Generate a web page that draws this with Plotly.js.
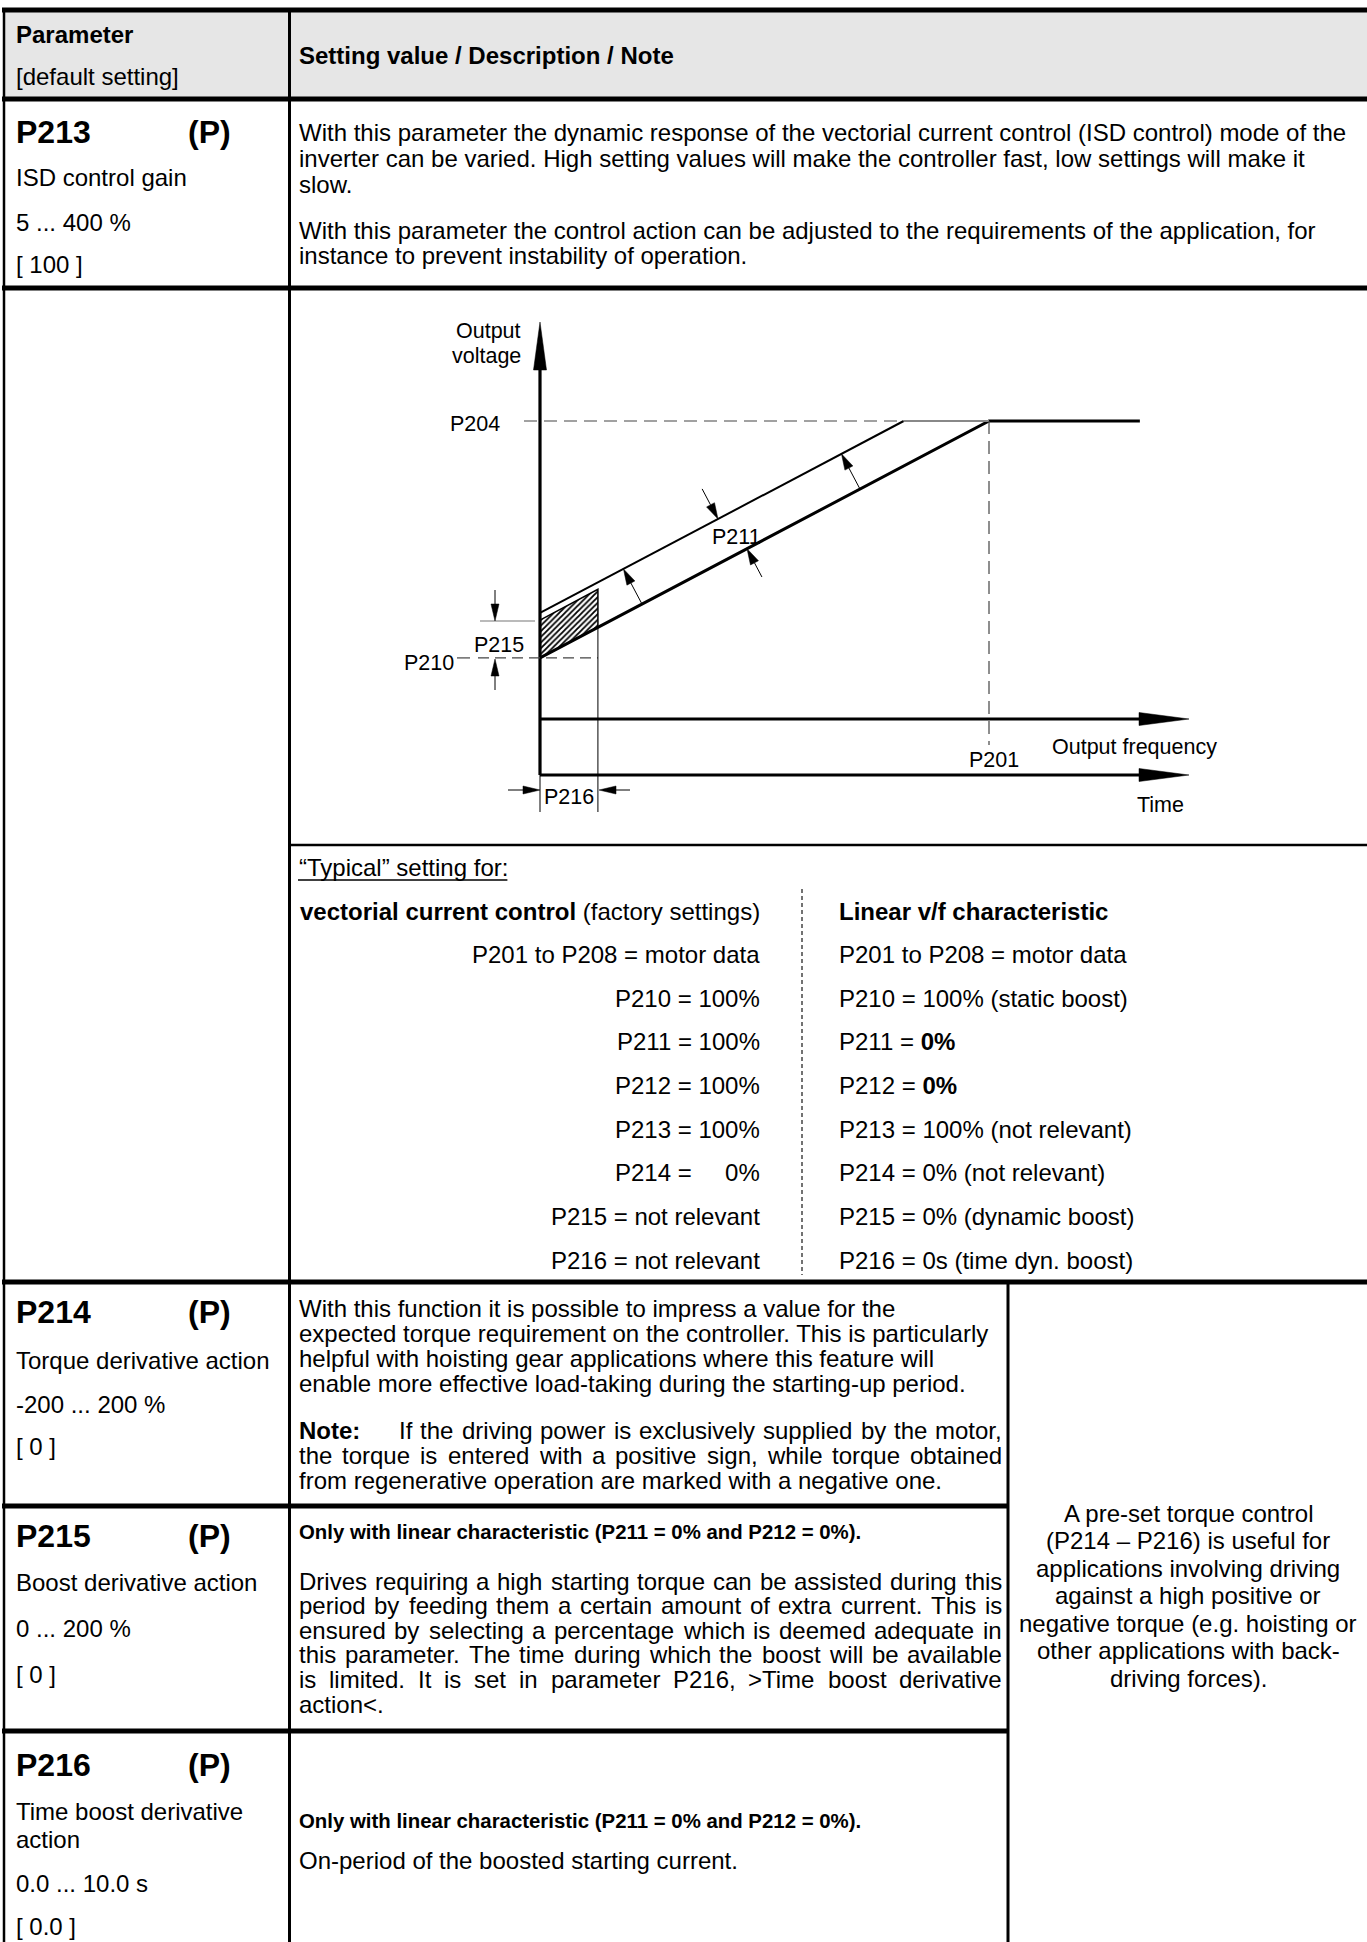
<!DOCTYPE html>
<html><head><meta charset="utf-8">
<script src="https://cdn.plot.ly/plotly-3.0.1.min.js"></script>
<style>html,body{margin:0;padding:0;background:#fff;}#chart{width:1367px;height:1942px;}</style>
</head><body><div id="chart"></div>
<script>
// ---------------- DATA ----------------
// Diagram values (frequency unit: P201 = 1, voltage unit: P204 = 1)
const charFreq  = [0, 1.0, 1.336];     // v/f characteristic (bold)
const charVolt  = [0.205, 1.0, 1.0];
const boostFreq = [0, 0.81];           // characteristic raised by P211
const boostVolt = [0.356, 1.0];
const flatFreq  = [0.81, 1.0];
const flatVolt  = [1.0, 1.0];
const hatchFreq = [0, 0.129, 0.129, 0, 0];  // P215 dynamic boost area
const hatchVolt = [0.332, 0.435, 0.308, 0.205, 0.332];
const levelP204 = 1.0, levelP210 = 0.205, freqP201 = 1.0, timeP216 = 0.129;

const headerLeft  = ['Parameter', '[default setting]'];
const headerRight = 'Setting value / Description / Note';

const p213Lines = ['ISD control gain', '5 ... 400 %', '[ 100 ]'];
const p213Text = [
 'With this parameter the dynamic response of the vectorial current control (ISD control) mode of the',
 'inverter can be varied. High setting values will make the controller fast, low settings will make it',
 'slow.',
 'With this parameter the control action can be adjusted to the requirements of the application, for',
 'instance to prevent instability of operation.'];

const typicalTitle = '“Typical” setting for:';
const typLeft = ['<b>vectorial current control</b> (factory settings)', 'P201 to P208 = motor data',
 'P210 = 100%', 'P211 = 100%', 'P212 = 100%', 'P213 = 100%', 'P214 =\u00a0\u00a0\u00a0\u00a0\u00a00%',
 'P215 = not relevant', 'P216 = not relevant'];
const typRight = ['<b>Linear v/f characteristic</b>', 'P201 to P208 = motor data',
 'P210 = 100% (static boost)', 'P211 = <b>0%</b>', 'P212 = <b>0%</b>', 'P213 = 100% (not relevant)',
 'P214 = 0% (not relevant)', 'P215 = 0% (dynamic boost)', 'P216 = 0s (time dyn. boost)'];

const p214Lines = ['Torque derivative action', '-200 ... 200 %', '[ 0 ]'];
const p214Para1 = ['With this function it is possible to impress a value for the',
 'expected torque requirement on the controller. This is particularly',
 'helpful with hoisting gear applications where this feature will',
 'enable more effective load-taking during the starting-up period.'];
const p214Note = ['If the driving power is exclusively supplied by the motor,',
 'the torque is entered with a positive sign, while torque obtained',
 'from regenerative operation are marked with a negative one.'];

const p215Lines = ['Boost derivative action', '0 ... 200 %', '[ 0 ]'];
const onlyLinear = 'Only with linear characteristic (P211 = 0% and P212 = 0%).';
const p215Para = ['Drives requiring a high starting torque can be assisted during this',
 'period by feeding them a certain amount of extra current. This is',
 'ensured by selecting a percentage which is deemed adequate in',
 'this parameter. The time during which the boost will be available',
 'is limited. It is set in parameter P216, >Time boost derivative',
 'action<.'];

const p216Lines = ['Time boost derivative', 'action', '0.0 ... 10.0 s', '[ 0.0 ]'];
const p216Text = 'On-period of the boosted starting current.';

const sideNote = ['A pre-set torque control', '(P214 – P216) is useful for', 'applications involving driving',
 'against a high positive or', 'negative torque (e.g. hoisting or', 'other applications with back-',
 'driving forces).'];

// ---------------- LAYOUT HELPERS ----------------
const W = 1367, H = 1942;
const FONT = 'Liberation Sans, Arial, sans-serif';
const shapes = [], anns = [];
const ctx = document.createElement('canvas').getContext('2d');
function tw(t, size, bold){ ctx.font = (bold?'bold ':'') + size + 'px "Liberation Sans"'; return ctx.measureText(t).width; }
function T(x, y, text, o){ o=o||{}; anns.push({x:x, y:y, xref:o.xref||'x', yref:o.yref||'y', text:text, showarrow:false,
  xanchor:o.anchor||'left', yanchor:'middle', borderpad:0, font:{family:FONT, size:o.size||24, color:'#000'}}); }
function hl(y, x0, x1, w, c){ shapes.push({type:'line', xref:'x', yref:'y', x0:x0, x1:x1, y0:y, y1:y, line:{width:w, color:c||'#000'}}); }
function vl(x, y0, y1, w, c, d){ shapes.push({type:'line', xref:'x', yref:'y', x0:x, x1:x, y0:y0, y1:y1, line:{width:w, color:c||'#000', dash:d||'solid'}}); }
function justify(words, x0, x1, y, size){
  const info = words.map(w => ({w:w, width:tw(w, size, false)}));
  const tot = info.reduce((s,i)=>s+i.width, 0);
  const gap = (x1 - x0 - tot) / (words.length - 1);
  let x = x0;
  info.forEach(i => { T(x, y, i.w, {size:size}); x += i.width + gap; });
}

// diagram scale anchors (pixels)
const PX0 = 540, PY0 = 719, SX = 449, SY = 298;
const ux = p => (p - PX0) / SX, uy = p => (PY0 - p) / SY;
const pxX = u => PX0 + u * SX, pxY = v => PY0 - v * SY;
function dline(x0,y0,x1,y1,w,c,d){ shapes.push({type:'line', xref:'x2', yref:'y2', x0:ux(x0), y0:uy(y0), x1:ux(x1), y1:uy(y1), line:{width:w, color:c||'#000', dash:d||'solid'}}); }
function arrow(tail, tip, L, Wd, lw){
  const dx = tip[0]-tail[0], dy = tip[1]-tail[1], len = Math.hypot(dx,dy);
  const ex = dx/len, ey = dy/len, nx = -ey, ny = ex;
  const b = [tip[0]-ex*L, tip[1]-ey*L];
  dline(tail[0], tail[1], b[0], b[1], lw);
  const p1 = [b[0]+nx*Wd, b[1]+ny*Wd], p2 = [b[0]-nx*Wd, b[1]-ny*Wd];
  shapes.push({type:'path', xref:'x2', yref:'y2', fillcolor:'#000', line:{width:0.5, color:'#000'},
    path:'M'+ux(tip[0])+','+uy(tip[1])+' L'+ux(p1[0])+','+uy(p1[1])+' L'+ux(p2[0])+','+uy(p2[1])+' Z'});
}

// ---------------- TABLE ----------------
const yP214Bottom = 1506, yP215Bottom = 1731;
shapes.push({type:'rect', xref:'x', yref:'y', x0:4, x1:W, y0:12, y1:97, fillcolor:'#e6e6e6', line:{width:0}, layer:'below'});
hl(10, 2, W, 5); hl(99, 2, W, 5); hl(288, 2, W, 5);
hl(845, 289, W, 2.5); hl(1282, 2, W, 5);
hl(yP214Bottom, 2, 1009, 5); hl(yP215Bottom, 2, 1009, 5);
vl(4, 8, H, 2.5); vl(289.5, 8, H, 3); vl(1008, 1280, H, 3);
vl(802, 889, 1275, 1.5, '#444', '4px,3px');

T(15, 34, '<b>'+headerLeft[0]+'</b>'); T(15, 76, headerLeft[1]);
T(298, 55, '<b>'+headerRight+'</b>');

function paramHead(code, y){ T(15, y, '<b>'+code+'</b>', {size:32}); T(232, y, '<b>(P)</b>', {size:32, anchor:'right'}); }
paramHead('P213', 132);
[177, 222, 264].forEach((y,i)=>T(15, y, p213Lines[i]));
[132, 158, 184, 230, 255].forEach((y,i)=>T(298, y, p213Text[i]));

// typical settings
T(298, 867, typicalTitle);
hl(880, 298, 298 + tw(typicalTitle, 24, false), 1.5);
typLeft.forEach((t,i)=>T(761, 911 + i*43.65, t, {anchor:'right'}));
typRight.forEach((t,i)=>T(838, 911 + i*43.65, t));

// P214
paramHead('P214', 1312);
[1360, 1404, 1446].forEach((y,i)=>T(15, y, p214Lines[i]));
[1308, 1333, 1358, 1383].forEach((y,i)=>T(298, y, p214Para1[i]));
T(298, 1430, '<b>Note:</b>');
justify(p214Note[0].split(' '), 398, 1001, 1430, 24);
justify(p214Note[1].split(' '), 298, 1001, 1455, 24);
T(298, 1480, p214Note[2]);

// P215
paramHead('P215', 1536);
[1582, 1628, 1674].forEach((y,i)=>T(15, y, p215Lines[i]));
T(298, 1532, '<b>'+onlyLinear+'</b>', {size:20.4});
p215Para.forEach((t,i)=>{ const y = 1581 + i*24.6; if(i < p215Para.length-1) justify(t.split(' '), 298, 1001, y, 24); else T(298, y, t); });

// P216
paramHead('P216', 1765);
[1811, 1839, 1883, 1926].forEach((y,i)=>T(15, y, p216Lines[i]));
T(298, 1821, '<b>'+onlyLinear+'</b>', {size:20.4});
T(298, 1860, p216Text);

// side note
sideNote.forEach((t,i)=>T(1188, 1513 + i*27.5, t, {anchor:'center'}));

// ---------------- DIAGRAM ----------------
// axes with arrows
dline(540, 775, 540, 368, 3.2);
arrow([540, 380], [540, 322], 48, 6.5, 0.1);
dline(540, 719, 1140, 719, 3);
arrow([1150, 719], [1189, 719], 50, 6.5, 0.1);
dline(540, 775, 1140, 775, 3);
arrow([1150, 775], [1189, 775], 50, 6.5, 0.1);
// reference dashed lines
shapes.push({type:'line', xref:'x2', yref:'y2', x0:ux(524), x1:boostFreq[1], y0:levelP204, y1:levelP204, line:{width:1.2, color:'#444', dash:'13px,7px'}});
shapes.push({type:'line', xref:'x2', yref:'y2', x0:freqP201, x1:freqP201, y0:levelP204, y1:uy(745), line:{width:1.2, color:'#444', dash:'13px,7px'}});
shapes.push({type:'line', xref:'x2', yref:'y2', x0:ux(457), x1:ux(470), y0:levelP210, y1:levelP210, line:{width:1.2, color:'#444'}});
shapes.push({type:'line', xref:'x2', yref:'y2', x0:ux(478), x1:timeP216, y0:levelP210, y1:levelP210, line:{width:1.2, color:'#444', dash:'11px,6px'}});
// P215 dimension
dline(480, 621, 535, 621, 1.2, '#777');
arrow([495, 590], [495, 621], 17, 4, 1);
arrow([495, 690], [495, 659], 17, 4, 1);
// P216 dimension
shapes.push({type:'line', xref:'x2', yref:'y2', x0:timeP216, x1:timeP216, y0:hatchVolt[2], y1:uy(812), line:{width:1, color:'#000'}});
shapes.push({type:'line', xref:'x2', yref:'y2', x0:0, x1:0, y0:uy(775), y1:uy(812), line:{width:1, color:'#000'}});
arrow([508, 790], [540, 790], 17, 4, 1);
arrow([630, 790], [599, 790], 17, 4, 1);
// P211 arrows (perpendicular to the characteristic)
const sl = (charVolt[1]-charVolt[0])/(charFreq[1]-charFreq[0]) * SY / SX;
const pn = [Math.sin(Math.atan(sl)), Math.cos(Math.atan(sl))];
function onUpper(x){ return [x, pxY(boostVolt[0] + (boostVolt[1]-boostVolt[0])/boostFreq[1]*ux(x))]; }
function onLower(x){ return [x, pxY(charVolt[0] + (charVolt[1]-charVolt[0])*ux(x))]; }
let t1 = onUpper(718); arrow([t1[0]-pn[0]*34, t1[1]-pn[1]*34], t1, 16, 4.5, 1);
let t3 = onLower(747); arrow([t3[0]+pn[0]*32, t3[1]+pn[1]*32], t3, 16, 4.5, 1);
let b2 = onLower(642); let d2 = (onLower(642)[1]-onUpper(642)[1])*pn[1];
arrow(b2, [b2[0]-pn[0]*d2, b2[1]-pn[1]*d2], 16, 4.5, 1);
let b4 = onLower(860);
arrow(b4, [b4[0]-pn[0]*d2, b4[1]-pn[1]*d2], 16, 4.5, 1);

// diagram labels
const DS = 21.5;
T(522, 331, 'Output', {anchor:'right', size:DS});
T(522, 356, 'voltage', {anchor:'right', size:DS});
T(ux(501), levelP204 - 3/SY, 'P204', {anchor:'right', size:DS, xref:'x2', yref:'y2'});
T(ux(455), levelP210 - 5/SY, 'P210', {anchor:'right', size:DS, xref:'x2', yref:'y2'});
T(499, 645, 'P215', {anchor:'center', size:DS});
T(736, 537, 'P211', {anchor:'center', size:DS});
T(freqP201 + 5/SX, uy(760), 'P201', {anchor:'center', size:DS, xref:'x2', yref:'y2'});
T(1134, 747, 'Output frequency', {anchor:'center', size:DS});
T(1160, 805, 'Time', {anchor:'center', size:DS});
T(569, 797, 'P216', {anchor:'center', size:DS});

const traces = [
 {type:'scatter', mode:'lines', x:hatchFreq, y:hatchVolt, xaxis:'x2', yaxis:'y2', fill:'toself', fillcolor:'#fff',
  fillpattern:{shape:'/', fgcolor:'#000', bgcolor:'#fff', size:4, solidity:0.45}, line:{color:'#000', width:1.5}, hoverinfo:'skip'},
 {type:'scatter', mode:'lines', x:charFreq, y:charVolt, xaxis:'x2', yaxis:'y2', line:{color:'#000', width:3}, hoverinfo:'skip'},
 {type:'scatter', mode:'lines', x:boostFreq, y:boostVolt, xaxis:'x2', yaxis:'y2', line:{color:'#000', width:2}, hoverinfo:'skip'},
 {type:'scatter', mode:'lines', x:flatFreq, y:flatVolt, xaxis:'x2', yaxis:'y2', line:{color:'#888', width:2}, hoverinfo:'skip'}
];

const layout = {
  width:W, height:H, margin:{l:0, r:0, t:0, b:0}, paper_bgcolor:'#fff', plot_bgcolor:'rgba(0,0,0,0)',
  showlegend:false, hovermode:false,
  xaxis:{range:[0, W], domain:[0,1], visible:false, fixedrange:true},
  yaxis:{range:[H, 0], domain:[0,1], visible:false, fixedrange:true},
  xaxis2:{domain:[380/W, 1260/W], range:[ux(380), ux(1260)], anchor:'y2', visible:false, fixedrange:true},
  yaxis2:{domain:[(H-840)/H, (H-300)/H], range:[uy(840), uy(300)], anchor:'x2', visible:false, fixedrange:true},
  shapes:shapes, annotations:anns
};
Plotly.newPlot('chart', traces, layout, {staticPlot:true, displayModeBar:false});
</script></body></html>
